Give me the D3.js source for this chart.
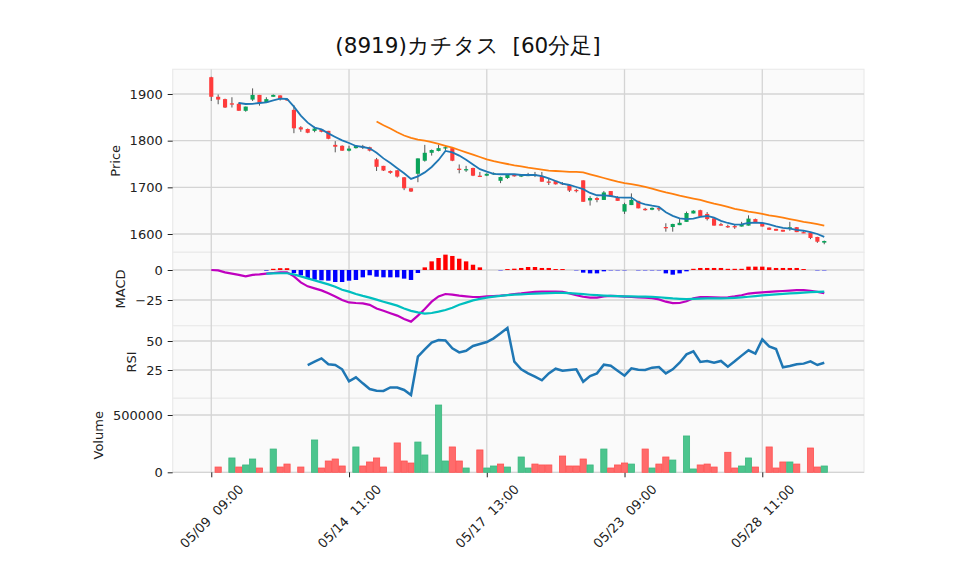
<!DOCTYPE html>
<html>
<head>
<meta charset="utf-8">
<script src="https://cdn.jsdelivr.net/npm/d3@7"></script>
<style>
  body { margin: 0; background: #fff; }
  text { font-family: "DejaVu Sans", sans-serif; }
</style>
</head>
<body>
<svg id="chart" width="958" height="575"></svg>
<script>
// ---- data (60-minute bars, 05/09 09:00 .. 05/29 14:00) ----
const opens = [1936,1894,1889,1880,1879,1864,1888,1898,1882,1894,
  1897,1889,1866,1828.6,1825,1821,1824,1821,1791,1789,
  1778.5,1784,1788,1786,1760,1746,1735,1736.5,1721.5,1698,
  1729,1757,1774,1778,1785,1784,1740,1739,1741.5,1725,
  1725,1729.5,1714,1720,1726.5,1723,1724,1727.5,1724,1712.5,
  1714,1709,1705,1694.5,1715,1672,1677,1673,1692,1678,
  1648,1662,1671,1654,1652,1655.5,1615,1615,1619,1626,
  1644,1651,1643,1633.6,1621,1617,1617,1616,1618,1632,
  1623,1613.6,1611,1609,1614,1614.6,1604,1603,1593.6,1581.5];
const highs = [1937,1899,1890,1893,1882,1873,1912,1898,1893,1899,
  1897,1890,1876,1831,1826,1830,1825,1821,1799,1790,
  1789,1790,1791,1787,1763,1746,1736,1737,1722,1698,
  1762,1791,1781,1791,1789,1786,1749,1746,1742,1733,
  1730,1732,1723,1728,1727,1727,1731,1733,1733,1718,
  1714,1711,1705,1697,1715,1681,1679,1692,1692,1681,
  1667,1687,1671,1656,1657,1658,1623,1622,1632,1648,
  1651,1652,1647,1634,1624,1620,1620,1626,1640,1633,
  1623,1614,1611,1609,1626,1615,1606,1603,1594,1586];
const lows = [1885,1878,1870,1871,1864,1862,1885,1875,1881,1894,
  1886,1885,1816,1819,1816,1818,1818,1803,1775,1778,
  1777,1783,1782,1777,1735,1735,1729,1721,1694,1690,
  1711,1755,1768,1777,1779,1756,1730,1733,1724,1722,
  1724,1727,1709,1718,1723,1722,1724,1722,1712,1705,
  1706,1705,1690,1689,1669,1661,1668,1673,1681,1671,
  1643,1662,1655,1650,1651,1649,1605,1605,1619,1626,
  1644,1637,1629,1618,1618,1613,1611,1616,1618,1624,
  1616,1609,1607,1605,1607,1604,1602,1589,1581,1578];
const closes = [1894,1888,1871,1879,1864,1873,1898,1881,1889,1898,
  1889,1888,1826.5,1824,1817,1826,1819,1804,1787,1778.5,
  1783,1789,1787,1778.6,1744,1736,1731,1723,1698,1691,
  1762,1774,1780,1784,1786,1757,1739,1739,1725,1724.5,
  1729,1730.5,1722,1727,1723.5,1726,1728,1727,1712,1711.5,
  1706.5,1708.6,1693,1694,1669,1677,1673,1689,1681,1671,
  1664,1673,1655,1651,1656,1655,1614.5,1621.5,1624,1645,
  1650,1637,1632,1618,1618,1616.5,1616.5,1621.5,1633,1624,
  1616,1609,1607,1605,1614.5,1604,1603.6,1591.5,1583.5,1585];
const volumes = [0,46000,0,125000,46000,64000,116000,37500,0,203000,
  46000,72000,0,46000,0,282000,37500,98600,116000,55000,
  0,221000,55000,90000,125000,46000,0,256000,98600,81000,
  264000,151000,0,587000,98600,221000,98600,37500,0,195000,
  37500,55000,72000,46000,0,133500,37500,72000,64000,64000,
  0,142000,55000,55000,116000,64000,0,203000,37500,64000,
  81000,72000,0,203000,37500,72000,133500,107000,0,317000,
  29000,64000,72000,46000,0,174500,37500,55000,125000,46000,
  0,221000,37500,90000,90000,72000,0,212000,46000,55000];
// 1 = rising bar colour, 0 = falling bar colour, as drawn in the volume panel
const volUp = [0,0,0,1,0,1,1,0,0,1, 0,0,0,0,0,1,0,0,0,0, 0,1,0,0,0,0,0,0,0,0,
  1,1,0,1,1,0,0,1,0,0, 1,1,0,1,0,1,1,0,0,0, 0,0,0,0,0,1,0,1,0,0,
  0,1,0,0,1,0,0,1,0,1, 1,0,0,0,0,0,0,1,1,0, 0,0,0,0,1,0,0,0,0,1];
const ma5 = [null,null,null,null,1880.7,1878.6,1879,1880.7,1882,1886.4,
  1890,1889.3,1873,1853.6,1838.6,1828,1824,1815.7,1808,1800.7,
  1795,1788.6,1786.4,1783.6,1774,1762,1752,1741,1730,1718,
  1723.6,1732,1743.6,1758.6,1778,1775,1768,1759,1749,1739,
  1733.5,1729,1728,1728,1728,1726.4,1726.4,1726.4,1724,1719,
  1713.6,1708,1705,1700.7,1696,1688,1683,1682.6,1681.4,1678.6,
  1678,1678,1668,1663.6,1660.6,1658,1646.5,1639,1633.6,1632,
  1632.8,1636.5,1638.6,1635,1628,1623.6,1620,1620.7,1623.6,1624.3,
  1623.6,1620.7,1616.5,1613,1611.4,1609,1607,1604,1600,1594];
const ma25 = [null,null,null,null,null,null,null,null,null,null,
  null,null,null,null,null,null,null,null,null,null,
  null,null,null,null,1841,1833,1826,1818,1811,1806,
  1802,1800,1797,1793,1789,1785,1780,1775,1770,1765,
  1760,1756,1753,1750,1747,1745,1742,1740,1738,1736,
  1735,1734,1733,1733,1732,1728,1724,1720,1716,1712,
  1709,1707,1704,1701,1697,1693,1689,1686,1682,1679,
  1676,1673,1669,1665,1662,1658,1654,1651,1648,1646,
  1643,1640,1638,1635,1632,1629,1626,1624,1621,1618];
const macd = [0,-0.3,-2,-3,-4,-5.3,-4,-3.6,-3,-2.5,
  -2,-2,-5.3,-10.3,-13.6,-15.3,-17,-19.4,-22,-25,
  -27,-27.5,-27.8,-29,-32,-34,-36,-38,-40.8,-43,
  -38,-32.5,-26.4,-22,-20,-20.5,-21.4,-22,-22.5,-22.5,
  -22,-21.7,-21.4,-20.8,-20,-19.5,-18.8,-18.3,-18,-18,
  -18,-18.2,-19.5,-21,-22.3,-23,-23,-22,-21.5,-21.8,
  -22.2,-22.5,-22.8,-23,-23.5,-24.5,-26.4,-27.6,-27.5,-26,
  -23.5,-22.6,-22.5,-22.8,-23,-22.8,-22,-21,-19.6,-19,
  -18.6,-18.2,-17.8,-17.5,-17.2,-16.8,-16.8,-17.3,-18.2,-19.2];
const signal = [null,null,null,null,null,null,null,null,-3,-2.8,
  -2.7,-2.7,-3.6,-5.3,-7,-8.6,-10.3,-12,-14,-16.4,
  -18,-20,-21.6,-23,-24.7,-26.4,-28,-29.7,-32,-34,
  -35.3,-36.4,-35.8,-34.7,-33.3,-31.4,-29,-27.2,-25.3,-24,
  -23,-22.2,-21.6,-21,-20.5,-20.3,-20,-19.7,-19.4,-19.2,
  -19.1,-19.1,-19.2,-19.6,-20.1,-20.6,-21,-21.3,-21.5,-21.7,
  -21.9,-22,-22.1,-22.2,-22.4,-22.7,-23.2,-23.7,-24,-24.2,
  -24,-23.8,-23.7,-23.6,-23.6,-23.5,-23.2,-22.8,-22.3,-21.7,
  -21.2,-20.7,-20.3,-19.9,-19.5,-19.2,-18.8,-18.5,-18.2,-18];
const hist = [null,null,null,null,null,null,null,null,-0.5,1,
  1.5,1.5,-2.5,-4.4,-7.2,-8,-8.6,-8.9,-10,-10,
  -8.9,-8.3,-6.1,-4.4,-5.6,-6.1,-6.1,-6.1,-7.2,-8.3,
  -2.5,2.2,7.2,10,12.8,11.7,9.4,7.2,4.4,2.2,
  0,0,-0.3,0.8,1.1,1.7,2.5,2.5,1.7,1.7,
  0.8,0.8,0,-0.3,-2.2,-2.8,-2.8,-1.1,-0.3,-0.3,
  -0.3,0,-0.3,-0.3,-0.3,-0.3,-2.8,-3.9,-2.8,-1.1,
  1,1.7,1.7,1.7,1.7,1,1,1,2.8,2.8,
  2.8,2.2,1.7,1.7,1.7,1.7,0.8,0,-0.3,-0.3];
const rsi = [null,null,null,null,null,null,null,null,null,null,
  null,null,null,null,29.3,32.2,35,29.9,29.3,25.6,
  15.3,18.7,13.5,8.6,7.2,7,10,9.9,7.8,3.4,
  36.5,42.8,48.6,50.9,50.5,43.7,40.2,41.6,45.7,47.4,
  49.1,52.3,56.6,61.2,32.2,25.6,22.1,19.2,16.1,22.1,
  26.1,24.4,25,25.6,14.9,19.8,22.1,29.6,28.7,24.4,
  20.1,26.4,25.3,25,27,27.6,22.1,25.6,31.3,38.5,
  41.1,31.9,32.8,31.3,32.8,27.9,32.5,37.4,42,39.1,
  51.4,45.4,43.1,27.3,28.4,29.9,30.5,32.5,29.3,31.3];

const xTickIdx = [0, 20, 40, 60, 80];
const xTickLabels = ['05/09  09:00', '05/14  11:00', '05/17  13:00', '05/23  09:00', '05/28  11:00'];
const priceTicks = [1600, 1700, 1800, 1900];
const macdTicks = [-25, 0];
const rsiTicks = [25, 50];
const volTicks = [0, 500000];
const title = '(8919)カチタス  [60分足]';

// ---- layout ----
const svg = d3.select('#chart');
const left = 172.7, right = 864;
const x = d3.scaleLinear().domain([-5.6, 94.77]).range([left, right]);
const step = x(1) - x(0);

const panels = [
  { key: 'price', top: 69.3, bottom: 252.3, domain: [1560.8, 1952.9], ticks: priceTicks, label: 'Price' },
  { key: 'macd', top: 252.3, bottom: 325.7, domain: [-46.4, 14.75], ticks: macdTicks, label: 'MACD' },
  { key: 'rsi', top: 325.7, bottom: 398.3, domain: [0.6, 63.2], ticks: rsiTicks, label: 'RSI' },
  { key: 'vol', top: 398.3, bottom: 472.3, domain: [0, 645700], ticks: volTicks, label: 'Volume' }
];
const Y = {};
panels.forEach(p => { Y[p.key] = d3.scaleLinear().domain(p.domain).range([p.bottom, p.top]); });

const fmt = d => d < 0 ? '\u2212' + Math.abs(d) : String(d);

// backgrounds + grids
panels.forEach(p => {
  svg.append('rect')
    .attr('x', left).attr('y', p.top)
    .attr('width', right - left).attr('height', p.bottom - p.top)
    .attr('fill', '#fafafa').attr('stroke', '#ebebeb').attr('stroke-width', 1.2);

  svg.selectAll(null).data(p.ticks).enter().append('line')
    .attr('x1', left).attr('x2', right)
    .attr('y1', d => Y[p.key](d)).attr('y2', d => Y[p.key](d))
    .attr('stroke', '#d4d4d4').attr('stroke-width', 1.3);

  const ax = svg.append('g')
    .attr('transform', `translate(${left},0)`)
    .call(d3.axisLeft(Y[p.key]).tickValues(p.ticks).tickSize(5).tickPadding(5).tickFormat(fmt));
  ax.select('.domain').remove();
  ax.selectAll('.tick line').attr('stroke', '#222');
  ax.selectAll('.tick text').attr('font-size', 13).attr('fill', '#222')
    .attr('font-family', '"DejaVu Sans", sans-serif');

  const cy = (p.top + p.bottom) / 2;
  const bb = ax.node().getBBox();
  svg.append('text')
    .attr('transform', `translate(${left + bb.x - 10},${cy}) rotate(-90)`)
    .attr('text-anchor', 'middle')
    .attr('font-size', 13).attr('fill', '#222')
    .text(p.label);
});

svg.selectAll(null).data(xTickIdx).enter().append('line')
  .attr('x1', d => x(d)).attr('x2', d => x(d))
  .attr('y1', 69.3).attr('y2', 472.3)
  .attr('stroke', '#d4d4d4').attr('stroke-width', 1.3);

// x axis
const xa = svg.append('g')
  .attr('transform', 'translate(0,472.3)')
  .call(d3.axisBottom(x).tickValues(xTickIdx).tickSize(5).tickFormat((d, i) => xTickLabels[i]));
xa.select('.domain').remove();
xa.selectAll('.tick line').attr('stroke', '#222');
xa.selectAll('.tick text')
  .attr('y', null).attr('dy', null)
  .attr('text-anchor', 'middle')
  .attr('dominant-baseline', 'central')
  .attr('font-size', 13).attr('fill', '#222')
  .style('white-space', 'pre')
  .attr('transform', 'translate(0,44) rotate(-45)');

// ---- price panel ----
const idx = d3.range(closes.length);
const upC = '#0aa35a', dnC = '#ff3b3b';
const yp = Y.price;
const gP = svg.append('g');
gP.selectAll('line.wick').data(idx).enter().append('line')
  .attr('x1', i => x(i)).attr('x2', i => x(i))
  .attr('y1', i => yp(highs[i])).attr('y2', i => yp(lows[i]))
  .attr('stroke', '#555').attr('stroke-width', 1);
const bw = step * 0.6;
gP.selectAll('rect.body').data(idx).enter().append('rect')
  .attr('x', i => x(i) - bw / 2).attr('width', bw)
  .attr('y', i => yp(Math.max(opens[i], closes[i])))
  .attr('height', i => Math.max(1.3, Math.abs(yp(opens[i]) - yp(closes[i]))))
  .attr('fill', i => closes[i] >= opens[i] ? upC : dnC);

const line = (arr, ys) => d3.line()
  .defined(i => arr[i] != null)
  .x(i => x(i)).y(i => ys(arr[i]));

svg.append('path').datum(idx).attr('d', line(ma5, yp))
  .attr('fill', 'none').attr('stroke', '#1f77b4').attr('stroke-width', 1.8);
svg.append('path').datum(idx).attr('d', line(ma25, yp))
  .attr('fill', 'none').attr('stroke', '#ff7f0e').attr('stroke-width', 1.8);

// ---- MACD panel ----
const ym = Y.macd;
const hw = step * 0.64;
svg.append('g').selectAll('rect').data(idx.filter(i => hist[i] != null && hist[i] !== 0)).enter().append('rect')
  .attr('x', i => x(i) - hw / 2).attr('width', hw)
  .attr('y', i => ym(Math.max(0, hist[i])))
  .attr('height', i => Math.abs(ym(hist[i]) - ym(0)))
  .attr('fill', i => hist[i] > 0 ? '#ff0000' : '#0000ff');
svg.append('path').datum(idx).attr('d', line(macd, ym))
  .attr('fill', 'none').attr('stroke', '#bf00bf').attr('stroke-width', 2.2);
svg.append('path').datum(idx).attr('d', line(signal, ym))
  .attr('fill', 'none').attr('stroke', '#00bfbf').attr('stroke-width', 2.2);

// ---- RSI panel ----
svg.append('path').datum(idx).attr('d', line(rsi, Y.rsi))
  .attr('fill', 'none').attr('stroke', '#1f77b4').attr('stroke-width', 2.5);

// ---- volume panel ----
const yv = Y.vol;
const vw = step * 0.9;
svg.append('g').selectAll('rect').data(idx.filter(i => volumes[i] > 0)).enter().append('rect')
  .attr('x', i => x(i) - vw / 2).attr('width', vw)
  .attr('y', i => yv(volumes[i]))
  .attr('height', i => yv(0) - yv(volumes[i]))
  .attr('fill', i => volUp[i] ? '#4cc58e' : '#ff6b6b')
  .attr('stroke', i => volUp[i] ? '#3cb77f' : '#ff5050')
  .attr('stroke-width', 0.8);

// title
svg.append('text')
  .attr('x', 468).attr('y', 53)
  .attr('text-anchor', 'middle')
  .attr('font-size', 21.5)
  .attr('font-family', '"Noto Sans CJK JP", sans-serif')
  .style('white-space', 'pre')
  .attr('fill', '#111')
  .text(title);
</script>
</body>
</html>
